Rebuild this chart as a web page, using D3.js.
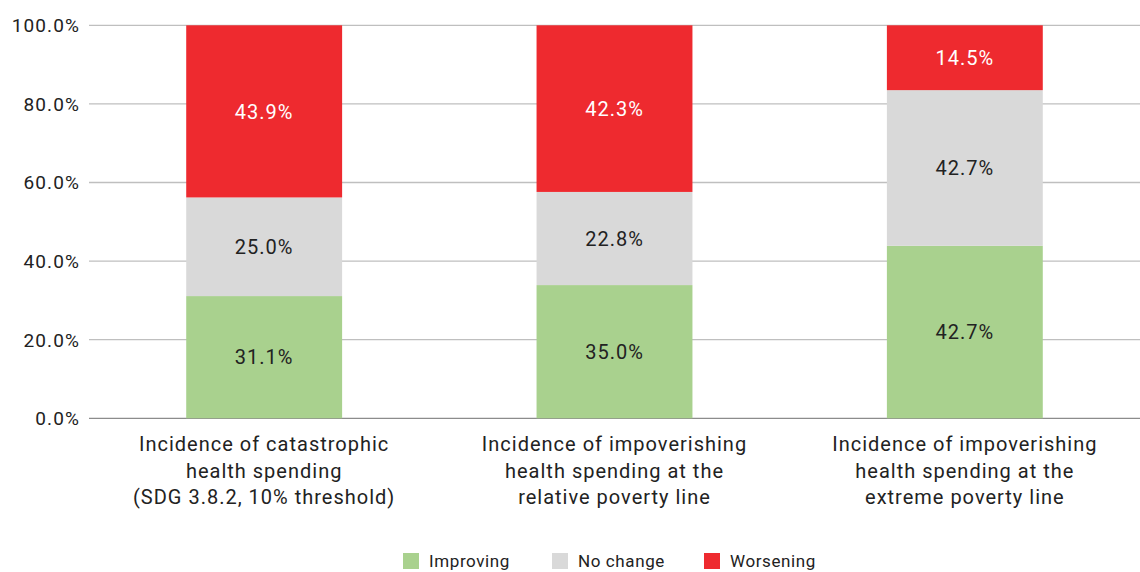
<!DOCTYPE html>
<html><head><meta charset="utf-8">
<script src="https://cdn.jsdelivr.net/npm/d3@7"></script>
<style>body{margin:0;background:#fff}svg{display:block}text{font-family:Roboto,"Noto Sans",sans-serif}</style>
</head><body><svg id="c" width="1140" height="572"></svg>
<script>
const categories = [
  ["Incidence of catastrophic","health spending","(SDG 3.8.2, 10% threshold)"],
  ["Incidence of impoverishing","health spending at the","relative poverty line"],
  ["Incidence of impoverishing","health spending at the","extreme poverty line"]
];
const seriesNames = ["Improving","No change","Worsening"];
// segment heights as drawn in the picture (%)
const improving = [31.1, 33.9, 43.9];
const noChange  = [25.1, 23.7, 39.6];
const worsening = [43.8, 42.4, 16.5];
// printed value labels
const improvingLabels = ["31.1%","35.0%","42.7%"];
const noChangeLabels  = ["25.0%","22.8%","42.7%"];
const worseningLabels = ["43.9%","42.3%","14.5%"];
const yTicks = [0,20,40,60,80,100];
const colors = ["#a9d18e","#d9d9d9","#ee2a2f"];
const labelColors = ["#222","#222","#fff"];

const svg = d3.select("#c");
const m = {l:89, r:0, t:25.3, b:153.7};
const W = 1140, H = 572;
const x = d3.scaleBand().domain(d3.range(categories.length)).range([m.l, W-m.r]).paddingInner(0.555).paddingOuter(0.2775);
const y = d3.scaleLinear().domain([0,100]).range([H-m.b, m.t]);

// gridlines
svg.append("g").selectAll("line").data(yTicks).join("line")
  .attr("x1", m.l).attr("x2", W).attr("y1", d=>y(d)).attr("y2", d=>y(d))
  .attr("stroke", d=>d===0?"#8c8c8c":"#bfbfbf").attr("stroke-width", 1.3);
svg.append("g").selectAll("text").data(yTicks).join("text")
  .attr("x", 80).attr("y", d=>y(d)).attr("dy","0.36em").attr("text-anchor","end")
  .attr("font-size", 19).attr("letter-spacing", "1.1px").attr("fill","#222").text(d=>d.toFixed(1)+"%");

const series = [improving, noChange, worsening];
const labels = [improvingLabels, noChangeLabels, worseningLabels];
const stacked = categories.map((c,i)=>{
  let acc = 0;
  return series.map((s,k)=>{ const y0 = acc; acc += s[i]; return {i,k,y0,y1:Math.min(acc,100)}; });
}).flat();

svg.append("g").selectAll("rect").data(stacked).join("rect")
  .attr("x", d=>x(d.i)).attr("width", x.bandwidth())
  .attr("y", d=>y(d.y1)).attr("height", d=>y(d.y0)-y(d.y1))
  .attr("fill", d=>colors[d.k]);

svg.append("g").selectAll("text").data(stacked).join("text")
  .attr("x", d=>x(d.i)+x.bandwidth()/2).attr("y", d=>(y(d.y0)+y(d.y1))/2)
  .attr("dy","0.36em").attr("text-anchor","middle").attr("font-size",20).attr("letter-spacing","1px")
  .attr("fill", d=>labelColors[d.k]).text(d=>labels[d.k][d.i]);

// category labels
const cat = svg.append("g").selectAll("text").data(categories).join("text")
  .attr("text-anchor","middle").attr("font-size",20).attr("letter-spacing","1px").attr("fill","#222")
  .attr("transform",(d,i)=>`translate(${x(i)+x.bandwidth()/2},0)`);
cat.selectAll("tspan").data(d=>d).join("tspan")
  .attr("x",0).attr("y",(d,j)=>444+j*26.5).attr("dy","0.36em").text(d=>d);

// legend
const legX = [403, 552, 704];
const lg = svg.append("g").selectAll("g").data(seriesNames).join("g")
  .attr("transform",(d,i)=>`translate(${legX[i]},553)`);
lg.append("rect").attr("width",16).attr("height",16).attr("fill",(d,i)=>colors[i]);
lg.append("text").attr("x",26).attr("y",8).attr("dy","0.36em").attr("font-size",17).attr("letter-spacing","0.6px").attr("fill","#222").text(d=>d);
</script></body></html>
